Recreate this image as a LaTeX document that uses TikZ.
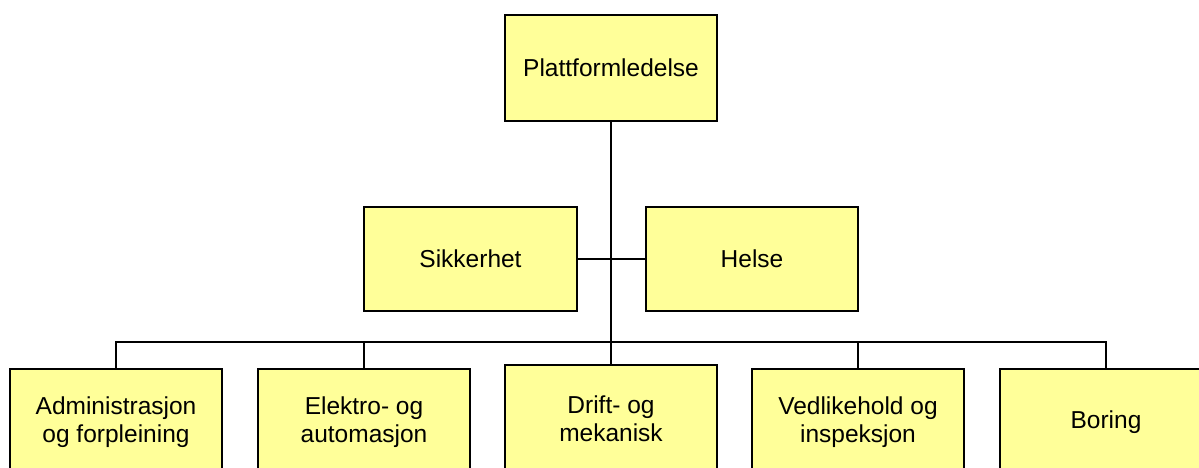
\documentclass[tikz,border=0pt]{standalone}
\usepackage{fontspec}
\setmainfont{Liberation Sans}
\definecolor{boxfill}{HTML}{FFFF99}
\begin{document}
\begin{tikzpicture}[x=1pt,y=-1pt,
  unit/.style={draw=black,line width=1.5pt,fill=boxfill,rectangle,
    minimum width=212pt,minimum height=106pt,inner sep=0pt,
    align=center,font=\fontsize{24.5}{28}\selectfont},
  link/.style={line width=1.1pt,draw=black},
  trunk/.style={line width=2.7pt,draw=black}]
\useasboundingbox (0,0) rectangle (1199,468);
\clip (0,0) rectangle (1199,468);
% management
\node[unit] (lead) at (611,68) {Plattformledelse};
% staff units
\node[unit,minimum width=213pt,minimum height=104pt] (sik) at (470.5,259) {Sikkerhet};
\node[unit,minimum height=104pt] (hel) at (752,259) {Helse};
% line departments
\node[unit] (adm) at (116,422) {Administrasjon\\og forpleining};
\node[unit] (ele) at (364,422) {Elektro- og\\automasjon};
\node[unit,minimum height=108pt] (dri) at (611,419) {Drift- og\\mekanisk};
\node[unit] (ved) at (858,422) {Vedlikehold og\\inspeksjon};
\node[unit] (bor) at (1106,422) {Boring};
% connectors
\coordinate (bus) at (611,342);
\draw[link] (sik.east) -- (hel.west);
\draw[link] (adm.north) |- (bus) -| (bor.north);
\draw[link] (ele.north) -- (ele.north |- bus);
\draw[link] (ved.north) -- (ved.north |- bus);
\draw[link] (dri.north) -- (bus);
\draw[trunk] (lead.south) -- (bus);
\end{tikzpicture}
\end{document}
